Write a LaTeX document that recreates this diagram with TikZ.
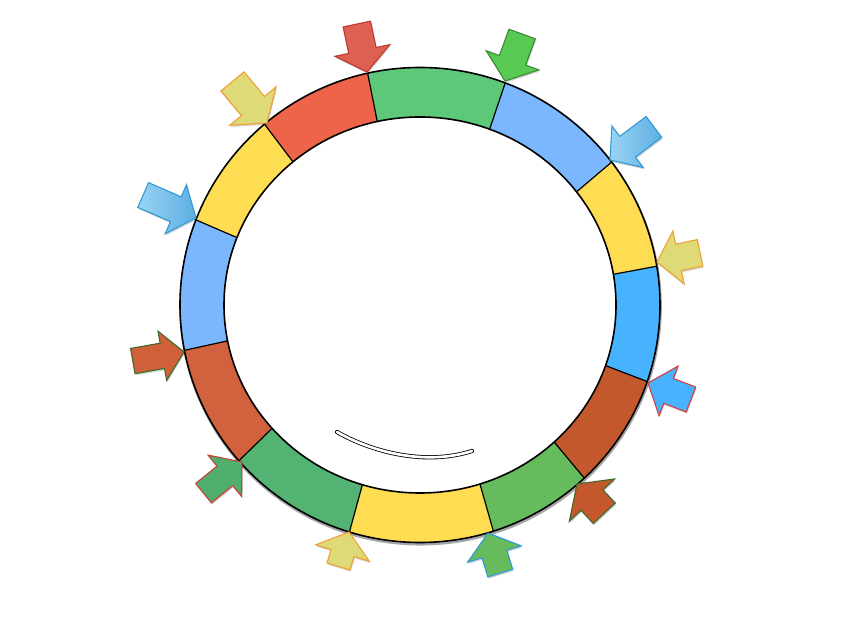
\documentclass[tikz,border=0pt]{standalone}
\usetikzlibrary{calc}
\definecolor{sgreenA}{HTML}{5EC87A}
\definecolor{sblueL}{HTML}{7AB7FF}
\definecolor{syellow}{HTML}{FEDD52}
\definecolor{sblueB}{HTML}{47B3FF}
\definecolor{sbrown}{HTML}{C2582B}
\definecolor{sgreenB}{HTML}{66BB5C}
\definecolor{sgreenC}{HTML}{52B373}
\definecolor{sorange}{HTML}{D2623D}
\definecolor{sred}{HTML}{EE644A}
\definecolor{aredF}{HTML}{DD6152}
\definecolor{aredD}{HTML}{C0392B}
\definecolor{agreenF}{HTML}{58C952}
\definecolor{agreenD}{HTML}{3A8A35}
\definecolor{ablueD}{HTML}{2F9AD6}
\definecolor{ablueDark}{HTML}{5DAEE2}
\definecolor{ablueLight}{HTML}{9AD3F4}
\definecolor{akhakiF}{HTML}{DEDA78}
\definecolor{akhakiD}{HTML}{F0A033}
\definecolor{aredB}{HTML}{D03F3F}
\definecolor{abrownF}{HTML}{C4582C}
\definecolor{aolive}{HTML}{3E6B2C}
\definecolor{agreenG}{HTML}{50AF6F}
\definecolor{aredG}{HTML}{C8402F}
\definecolor{aorangeF}{HTML}{D0603A}
\tikzset{
  arrowbase/.style={line width=1.1pt, line join=miter},
  divider/.style={line width=1.2pt, black},
  ringline/.style={line width=1.6pt, black},
}
\newcommand\blkarrow[7]{%
  \begin{scope}[shift={(#2+0.8,#3-1.8)}, rotate=#4]
    \fill[black, opacity=0.16] (0,0) -- (-22,#6) -- (-22,#7) -- (-#5,#7) -- (-#5,-#7) -- (-22,-#7) -- (-22,-#6) -- cycle;
  \end{scope}
  \begin{scope}[shift={(#2,#3)}, rotate=#4]
    \path[arrowbase,#1] (0,0) -- (-22,#6) -- (-22,#7) -- (-#5,#7) -- (-#5,-#7) -- (-22,-#7) -- (-22,-#6) -- cycle;
  \end{scope}}
\begin{document}
\begin{tikzpicture}[x=1pt,y=1pt]
\useasboundingbox (0,0) rectangle (856,616);
\fill[white] (0,0) rectangle (856,616);
% ring
\begin{scope}[shift={(420,311)}]
  \draw[black, opacity=0.35, line width=2.5pt] (0.6,-1.8) ellipse[x radius=240, y radius=237.5];
  \foreach \a/\b/\c in {102.6/69.2/sgreenA, 69.2/37/sblueL, 37/9.4/syellow, 9.4/-18.8/sblueB,
     -18.8/-46.8/sbrown, -46.8/-72.2/sgreenB, -72.2/-107.1/syellow, -107.1/-139/sgreenC,
     -139/-169/sorange, -169/-201/sblueL, -201/-229.6/syellow, -229.6/-257.4/sred}{
    \fill[\c] (\a:240 and 237.5) arc[start angle=\a, end angle=\b, x radius=240, y radius=237.5]
      -- (\b:196 and 188) arc[start angle=\b, end angle=\a, x radius=196, y radius=188] -- cycle;
  }
  \foreach \a in {102.6, 69.2, 37, 9.4, -18.8, -46.8, -72.2, -107.1, -139, -169, -201, -229.6}{
    \draw[divider] (\a:240 and 237.5) -- (\a:196 and 188);
  }
  \draw[ringline] (0,0) ellipse[x radius=240, y radius=237.5];
  \draw[ringline] (0,0) ellipse[x radius=196, y radius=188];
\end{scope}
% inner curve
\draw[black, line width=4.2pt, line cap=round] (337,184) .. controls (372,164) and (425,150) .. (472,165);
\draw[white, line width=2.6pt, line cap=round] (337,184) .. controls (372,164) and (425,150) .. (472,165);
% arrows: style, tip x, tip y, angle, length, head half width, body half width
\blkarrow{fill=aredF, draw=aredD}{367}{544}{-78}{49}{28}{14}
\blkarrow{fill=agreenF, draw=agreenD}{505}{535}{-110}{50}{28}{14}
\blkarrow{left color=ablueLight, right color=ablueDark, draw=ablueD}{610}{456}{-143}{55}{26}{13}
\blkarrow{fill=akhakiF, draw=akhakiD}{657}{354}{-168}{44}{27}{13.5}
\blkarrow{fill=sblueB, draw=aredB}{648}{233}{159}{46}{26.5}{13.3}
\blkarrow{fill=abrownF, draw=aolive}{577}{132}{133}{40}{31}{15}
\blkarrow{fill=sgreenB, draw=ablueD}{488}{83}{107}{42}{28}{13}
\blkarrow{fill=akhakiF, draw=akhakiD}{349}{84}{73}{36}{28}{12}
\blkarrow{fill=agreenG, draw=aredG}{242}{154}{39}{49.5}{26.6}{12.5}
\blkarrow{fill=aorangeF, draw=aolive}{184}{264}{10}{52}{25}{12.8}
\blkarrow{left color=ablueLight, right color=ablueDark, draw=ablueD}{196}{398}{-23.5}{57.6}{26.7}{13.5}
\blkarrow{fill=akhakiF, draw=akhakiD}{267}{493}{-50.3}{54}{30}{15}
\end{tikzpicture}
\end{document}
